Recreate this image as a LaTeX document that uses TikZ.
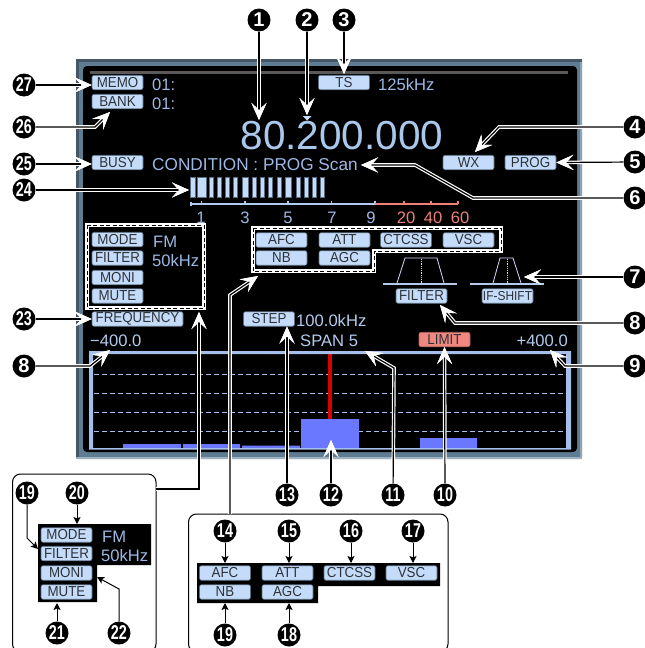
\documentclass[tikz,border=0pt]{standalone}
\usepackage{fontspec}
\usepackage{graphicx}
\setmainfont{Liberation Sans}
\newfontfamily\pillfont[FakeStretch=0.92]{Liberation Sans}
\usetikzlibrary{arrows.meta}
\definecolor{pillfill}{HTML}{C4DCFA}
\definecolor{pillline}{HTML}{5A6C80}
\definecolor{pilltext}{HTML}{2E3238}
\definecolor{lcdtext}{HTML}{9DB8E4}
\definecolor{freqtext}{HTML}{A9C8EC}
\definecolor{ruleblue}{HTML}{B2CBEC}
\definecolor{rulered}{HTML}{EE8078}
\definecolor{specline}{HTML}{A6BEEA}
\definecolor{specbar}{HTML}{6A78FF}
\definecolor{frameblue}{HTML}{5F7D92}
\definecolor{framedark}{HTML}{3E4E58}
\definecolor{limitred}{HTML}{F08880}
\newcommand{\nn}[1]{\scalebox{.72}[1]{#1}}
\newcommand{\fs}[1]{\fontsize{#1}{#1}\selectfont}
\tikzset{
  pill/.style={rectangle,rounded corners=2pt,fill=pillfill,draw=pillline,line width=.6pt,
    minimum width=51pt,minimum height=14.5pt,inner sep=0pt,text=pilltext,font=\pillfont\fs{14.5}},
  redpill/.style={pill,fill=limitred,draw=limitred!70!black},
  lcd/.style={inner sep=0pt,text=lcdtext,font=\fs{16.6}},
  lcdw/.style={inner sep=0pt,text=ruleblue,font=\fs{16.6}},
  numb/.style={circle,fill=black,text=white,font=\bfseries\fs{20},minimum size=23pt,inner sep=0pt},
  callout/.style={black,line width=1.2pt,line join=miter,
    preaction={draw=white,line width=3.6pt},
    arrows={-{Stealth[length=17pt,width=15pt,inset=7pt,fill=black,color=white,line width=2.4pt]}}},
  smallarrow/.style={black,line width=1pt,-{Stealth[length=7pt,width=7pt,inset=1.5pt]}},
  dashwhite/.style={draw=white,line width=4.4pt},
  dashblack/.style={draw=black,line width=1pt,dash pattern=on 4pt off 2.5pt},
  holder/.style={draw=black,line width=1pt,rounded corners=8pt,fill=white},
  meterbar/.style={fill=pillfill,draw=pillline,line width=.5pt},
}
\begin{document}
\begin{tikzpicture}[x=1pt,y=-1pt]
\useasboundingbox (0,0) rectangle (645,648);
% frame
\fill[frameblue,rounded corners=2pt] (76,59) rectangle (582,459);
\fill[framedark!80!frameblue] (76,59) rectangle (582,62);
\fill[framedark!80!frameblue] (76,59) rectangle (79,459);
\fill[frameblue!70!white] (579.5,62) rectangle (582,459);
\fill[frameblue!60!white] (76,457) rectangle (582,459);
\fill[black,rounded corners=4pt] (83,66) rectangle (577,452);
\draw[line width=3pt,color=black!65] (90,72) -- (568,72);
% top labels
\node[pill] (memo) at (117.5,82.5) {MEMO};
\node[pill] (bank) at (117.5,101.5) {BANK};
\node[lcd,anchor=west] (m01) at (152,85) {01:};
\node[lcd,anchor=west] (b01) at (152,104) {01:};
\node[pill] (ts) at (344,82.5) {TS};
\node[lcd,anchor=west] (tsv) at (378,85) {125kHz};
\node[inner sep=0pt,text=freqtext,font=\fs{40.5}] (freq) at (342,136) {80.200.000};
\fill[pillfill] (302.5,116) -- (311.5,116) -- (307,120.5) -- cycle;
\node[pill] (busy) at (117.5,162.5) {BUSY};
\node[lcd,anchor=west,font=\fs{17.2}] (cond) at (152,165) {CONDITION : PROG Scan};
\node[pill] (wx) at (468.5,162.5) {WX};
\node[pill] (prog) at (530.5,162.5) {PROG};
% meter
\foreach \a/\b in {190/195,197.5/206,209.5/213.5,217.5/221.5,225.5/229.5,233.5/237.5,242/248.5,252.5/256.5,260.5/264.5,268.5/272.5,277/281,285.5/291.5,296/300,304/308,312/316,320/324}
  \path[meterbar] (\a,177) rectangle (\b,197);
\draw[ruleblue,line width=1.4pt] (191,206) -- (191,201.5) (191,204) -- (375,204) (201.7,204) -- (201.7,201) (245,204) -- (245,201) (288,204) -- (288,201) (331.7,204) -- (331.7,201);
\draw[ruleblue,line width=1.4pt] (375,204) -- (375,201);
\draw[rulered,line width=1.4pt] (375,204) -- (458,204) (404,204) -- (404,201) (431,204) -- (431,201) (458,204) -- (458,201);
\foreach \x/\t in {201/1,245/3,288/5,332/7,371/9} \node[lcd] at (\x,218) {\t};
\foreach \x/\t in {406/20,433/40,460/60} \node[lcd,text=rulered] at (\x,218) {\t};
% left dashed box
\path[dashwhite] (87,225) rectangle (204,308);
\path[dashblack] (87,225) rectangle (204,308);
\node[pill] (mode) at (117.5,239.5) {MODE};
\node[pill] (filter) at (117.5,258) {FILTER};
\node[pill] (moni) at (117.5,277.5) {MONI};
\node[pill] (mute) at (117.5,296) {MUTE};
\node[lcd,anchor=west] (fmv) at (153,242) {FM};
\node[lcd,anchor=west] (bwv) at (152,261) {50kHz};
% right dashed box
\path[dashwhite] (253,228) -- (501,228) -- (501,251) -- (374,251) -- (374,271) -- (253,271) -- cycle;
\path[dashblack] (253,228) -- (501,228) -- (501,251) -- (374,251) -- (374,271) -- (253,271) -- cycle;
\node[pill] (afc) at (281.5,240) {AFC};
\node[pill] (att) at (344.5,240) {ATT};
\node[pill] (ctcss) at (406,240) {CTCSS};
\node[pill] (vsc) at (468.5,240) {VSC};
\node[pill] (nb) at (281.5,258) {NB};
\node[pill] (agc) at (344.5,258) {AGC};
% filter graphics
\draw[ruleblue,line width=1.4pt] (383,284) -- (457,284) (470,284) -- (544,284);
\draw[white!85!blue,line width=.8pt] (397,283) -- (405,258) -- (437,258) -- (444,283) (493,283) -- (500,258) -- (513,258) -- (521,283);
\draw[white!85!blue,line width=.8pt,densely dotted] (421,259) -- (421,283) (507,259) -- (507,283);
\node[pill] (filt2) at (421.5,296) {FILTER};
\node[pill,font=\pillfont\fs{13}] (ifs) at (507.5,296) {IF-SHIFT};
\node[pill,minimum width=91pt] (freqlab) at (137.5,319) {FREQUENCY};
\node[pill] (step) at (269,319) {STEP};
\node[lcdw,anchor=west] (stepv) at (296,321) {100.0kHz};
\node[lcdw,anchor=west] (span) at (300,341) {SPAN 5};
\node[redpill] (limit) at (444.5,339.5) {LIMIT};
\node[lcdw,anchor=west] (lo) at (90,341) {−400.0};
\node[lcdw,anchor=east] (hi) at (568,341) {+400.0};
% spectrum
\fill[specbar] (123,444) rectangle (181,448) (183,444) rectangle (240,448) (242,445.5) rectangle (300,448) (301,419) rectangle (359,448) (420,438) rectangle (477,448);
\foreach \y in {374,393,412,431}
  \draw[specline,line width=.8pt,dash pattern=on 5pt off 3pt] (94,\y) -- (566,\y);
\fill[specbar] (301,419) rectangle (359,448);
\fill[red!85!black] (328,354) rectangle (332,419);
\path[fill=specline,even odd rule] (89,351) rectangle (571,449.5) (93,354) rectangle (566,448);
% holders
\draw[holder] (12.5,474) rectangle (156,652);
\draw[holder] (188.5,514) rectangle (448,652);
\fill[black] (38,524) rectangle (151,565) (38,565) rectangle (97,602);
\node[pill] (mode2) at (66.5,535) {MODE};
\node[pill] (filter2) at (66.5,553.5) {FILTER};
\node[pill] (moni2) at (66.5,573) {MONI};
\node[pill] (mute2) at (66.5,592) {MUTE};
\node[lcd,anchor=west] (fm2) at (102,537) {FM};
\node[lcd,anchor=west] (bw2) at (101,556) {50kHz};
\fill[black] (197,563) rectangle (440,586) (197,586) rectangle (318,603);
\node[pill] (afc2) at (225,573) {AFC};
\node[pill] (att2) at (287.5,573) {ATT};
\node[pill] (ctcss2) at (349.5,573) {CTCSS};
\node[pill] (vsc2) at (411.5,573) {VSC};
\node[pill] (nb2) at (225,592) {NB};
\node[pill] (agc2) at (287.5,592) {AGC};
% numbers
\node[numb] (n1) at (259,20) {1};
\node[numb] (n2) at (307,20) {2};
\node[numb] (n3) at (344,20) {3};
\node[numb] (n4) at (635,127) {4};
\node[numb] (n5) at (635,162) {5};
\node[numb] (n6) at (635,198) {6};
\node[numb] (n7) at (635,277) {7};
\node[numb] (n8r) at (635,323) {8};
\node[numb] (n9) at (635,366) {9};
\node[numb] (n8l) at (24,366) {8};
\node[numb] (n23) at (24,319) {\nn{23}};
\node[numb] (n24) at (24,190) {\nn{24}};
\node[numb] (n25) at (24,164) {\nn{25}};
\node[numb] (n26) at (24,127) {\nn{26}};
\node[numb] (n27) at (24,85) {\nn{27}};
\node[numb] (n10) at (445,495) {\nn{10}};
\node[numb] (n11) at (393,495) {\nn{11}};
\node[numb] (n12) at (331,495) {\nn{12}};
\node[numb] (n13) at (287,495) {\nn{13}};
\node[numb] (n19a) at (27,493) {\nn{19}};
\node[numb] (n20) at (77,493) {\nn{20}};
\node[numb] (n21) at (57,633) {\nn{21}};
\node[numb] (n22) at (119,633) {\nn{22}};
\node[numb] (n14) at (225,531) {\nn{14}};
\node[numb] (n15) at (289,531) {\nn{15}};
\node[numb] (n16) at (351,531) {\nn{16}};
\node[numb] (n17) at (413,531) {\nn{17}};
\node[numb] (n19b) at (225,635) {\nn{19}};
\node[numb] (n18) at (289,635) {\nn{18}};
% connector ends
\coordinate (t1) at (259,120);
\coordinate (t2) at (307,115);
\coordinate (t3) at (344,74);
\coordinate (t4) at (475,152);
\coordinate (t6) at (361,165);
\coordinate (t7) at (524,277);
\coordinate (t8r) at (440,305);
\coordinate (t9) at (550,350);
\coordinate (t8l) at (110,350);
\coordinate (t11) at (365,351);
\coordinate (t12) at (331,440);
\coordinate (t26) at (110,112);
\coordinate (t24) at (189,190);
\coordinate (tleft) at (199,312);
\coordinate (tright) at (258,276);
\coordinate (s1) at (156,489);
\coordinate (s2) at (230,514);
\coordinate (t19) at (38,549);
\coordinate (t22) at (97,577);
% callouts
\draw[callout] (n1) -- (t1);
\draw[callout] (n2) -- (t2);
\draw[callout] (n3) -- (t3);
\draw[callout] (n4) -- (499,127) -- (t4);
\draw[callout] (n5) -- (prog.east);
\draw[callout] (n6) -- (473,198) -- (415,165) -- (t6);
\draw[callout] (n7) -- (t7);
\draw[callout] (n8r) -- (455,323) -- (t8r);
\draw[callout] (n9) -- (565,366) -- (t9);
\draw[callout] (n8l) -- (90,366) -- (t8l);
\draw[callout] (n23) -- (freqlab.west);
\draw[callout] (n24) -- (t24);
\draw[callout] (n25) -- (busy.west |- n25);
\draw[callout] (n26) -- (95,127) -- (t26);
\draw[callout] (n27) -- (memo.west |- n27);
\draw[callout] (n10) -- (limit.south);
\draw[callout] (n11) -- (394,368) -- (t11);
\draw[callout] (n12) -- (t12);
\draw[callout] (n13) -- (step.south -| n13);
\draw[callout] (s1) -- (199,489) -- (tleft);
\draw[callout] (s2) -- (230,295) -- (tright);
% small arrows
\draw[smallarrow] (n20) -- (77,524);
\draw[smallarrow] (n19a) -- (27,538) -- (t19);
\draw[smallarrow] (n21) -- (57,603);
\draw[smallarrow] (n22) -- (119,589) -- (t22);
\draw[smallarrow] (n14) -- (225,563);
\draw[smallarrow] (n15) -- (289,563);
\draw[smallarrow] (n16) -- (351,563);
\draw[smallarrow] (n17) -- (413,563);
\draw[smallarrow] (n19b) -- (225,603);
\draw[smallarrow] (n18) -- (289,603);
\end{tikzpicture}
\end{document}
